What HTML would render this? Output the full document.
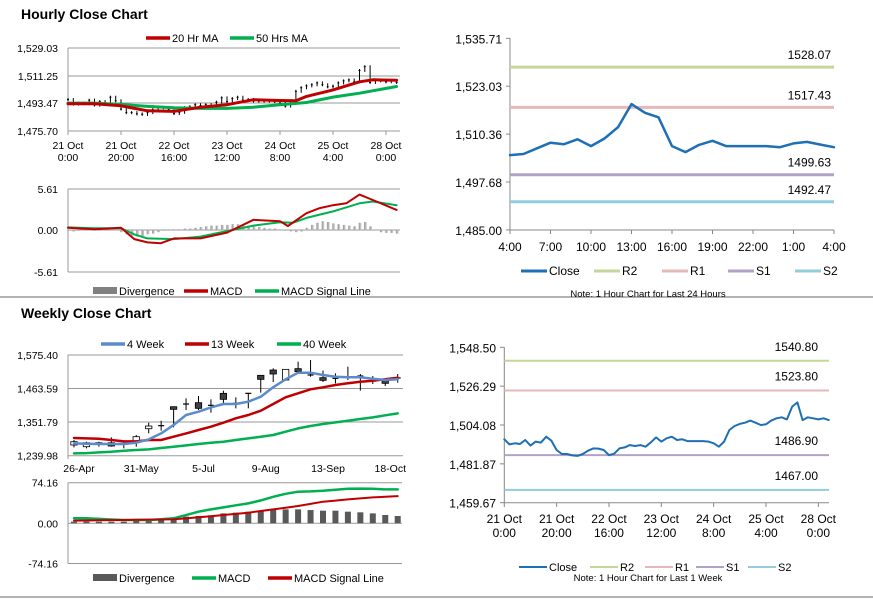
<!DOCTYPE html>
<html><head><meta charset="utf-8"><style>
html,body{margin:0;padding:0;background:#fff;}
svg{display:block;font-family:"Liberation Sans",Arial,sans-serif;}
</style></head><body>
<svg id="s" width="873" height="601" viewBox="0 0 873 601" xmlns="http://www.w3.org/2000/svg">
<line x1="0" y1="297" x2="873" y2="297" stroke="#999" stroke-width="1.5"/>
<line x1="0" y1="597" x2="873" y2="597" stroke="#999" stroke-width="1.5"/>
<text x="21" y="19" font-size="14" font-weight="bold">Hourly Close Chart</text>
<text x="21" y="318" font-size="14" font-weight="bold">Weekly Close Chart</text>
</svg>
<script>
// ---------- data ----------
const hourCloses = [1495.9,1493.0,1493.6,1493.2,1495.5,1492.3,1494.6,1494.0,1497.4,1495.1,1489.8,1487.5,1487.5,1486.7,1486.4,1487.5,1489.4,1490.7,1490.6,1489.8,1486.9,1487.7,1490.7,1491.3,1492.6,1492.1,1492.6,1491.7,1494.2,1497.0,1494.6,1496.5,1497.4,1495.5,1495.9,1494.9,1494.9,1494.9,1494.9,1494.6,1493.6,1491.7,1494.6,1501.2,1503.5,1504.7,1505.4,1506.6,1505.4,1504.1,1504.5,1506.6,1507.9,1508.5,1507.3,1514.6,1517.0,1506.9,1508.5,1507.9,1507.3,1507.9,1506.9];
const ma20Hours = [0,10,20,30,40,50,60,70,80,86,90,100,110,115,124];
const ma20Values = [1493.2,1493.2,1491.9,1488.7,1488.3,1491.0,1492.6,1495.8,1495.3,1495.1,1497.9,1502.1,1507.3,1508.6,1508.3];
const ma50Hours = [0,10,20,30,40,50,60,70,80,90,100,110,124];
const ma50Values = [1493.6,1493.6,1492.8,1491.5,1490.6,1490.2,1490.2,1491.0,1492.6,1494.0,1497.5,1500.0,1504.3];
const hourTicks = ["21 Oct|0:00","21 Oct|20:00","22 Oct|16:00","23 Oct|12:00","24 Oct|8:00","25 Oct|4:00","28 Oct|0:00"];
const hourPriceTicks = ["1,529.03","1,511.25","1,493.47","1,475.70"];
const macdHours = [0,10,20,25,30,35,40,50,60,70,80,83,90,95,100,105,110,115,124];
const macdValues = [0.3,0.1,0.3,-1.25,-1.7,-1.8,-1.15,-1.15,-0.35,1.4,1.2,0.55,2.3,3.0,3.4,3.65,4.85,4.1,2.75];
const signalHours = [0,10,20,25,30,40,50,60,70,80,85,90,100,110,115,124];
const signalValues = [0.35,0.25,0.25,-0.6,-1.15,-1.25,-0.9,-0.15,0.6,1.05,1.0,1.65,2.55,3.65,3.9,3.4];
const divergenceValues = [-0.1,-0.2,-0.1,0,0,-0.1,-0.1,0,0.1,0,-0.3,-0.6,-0.8,-0.9,-0.8,-0.6,-0.5,-0.3,-0.1,0.1,0.1,0.1,0.2,0.2,0.3,0.4,0.5,0.6,0.6,0.7,0.7,0.8,0.8,0.7,0.6,0.5,0.4,0.3,0.2,0.2,0.1,-0.1,-0.2,-0.3,-0.2,0.3,0.7,1.0,1.2,1.1,0.9,0.8,0.7,0.6,0.5,1.0,1.1,0.5,0.0,-0.3,-0.4,-0.4,-0.5];

const wkOpen = [1275.5,1270.0,1278.9,1283.3,1278.9,1286.6,1329.9,1340,1403.2,1412.1,1416.6,1407.7,1447.7,1414.4,1447.7,1507.7,1525.4,1492.1,1529.9,1508.8,1499.9,1497.7,1503.2,1505.4,1489.9,1489.9,1498.8];
const wkClose = [1286.6,1283.3,1283.3,1272.2,1278.9,1303.3,1338.8,1340,1394.4,1412.1,1397.7,1407.7,1427.7,1414.4,1447.7,1494.3,1512.1,1527.6,1519.9,1508.8,1491.0,1497.7,1503.2,1505.4,1489.9,1481.0,1498.8];
const wkHigh = [1292.2,1286.6,1286.6,1301.1,1286.6,1308.8,1349.9,1356.6,1403.2,1431.0,1438.8,1427.7,1456.6,1434.4,1447.7,1507.7,1531.0,1527.6,1553.2,1558.7,1523.2,1514.3,1536.5,1512.1,1505.4,1494.3,1512.1];
const wkLow = [1267.8,1264.4,1270,1270,1264.4,1270,1314.4,1323.3,1334.4,1392.1,1392.1,1383.3,1414.4,1397.7,1397.7,1449.9,1485.4,1489.9,1512.1,1503.2,1485.4,1481.0,1492.1,1456.6,1478.8,1472.1,1483.2];
const wk4 = [1281.1,1280,1278.9,1278.9,1278.9,1283.3,1294.4,1314.4,1342.2,1375.5,1386.6,1401,1412.1,1412.1,1419.9,1436.6,1467.7,1494.3,1516.5,1516.5,1508.8,1503.2,1501,1501,1496.5,1492.1,1494.3];
const wk13 = [1298.8,1297.7,1296.6,1292.2,1287.7,1287.7,1292.2,1292.2,1303.3,1314.4,1325.5,1336.6,1350.0,1364.4,1375.5,1390.0,1412.1,1434.4,1447.7,1461.0,1467.7,1475.4,1481.0,1486.5,1489.9,1494.3,1499.9];
const wk40 = [1247.7,1248.8,1251.1,1253.3,1256.6,1258.8,1261.1,1265.5,1270.0,1274.4,1278.9,1283.3,1286.6,1292.2,1297.7,1303.3,1308.8,1319.9,1331.0,1338.8,1345.5,1351.0,1356.6,1362.1,1367.7,1374.4,1381.0];
const wkTicks = ["26-Apr","31-May","5-Jul","9-Aug","13-Sep","18-Oct"];
const wkPriceTicks = ["1,575.40","1,463.59","1,351.79","1,239.98"];
const wkMacd = [9.1,9.1,8,7,6.1,6.1,6.1,7.5,9.1,15,21.3,25.5,29.2,33,36.5,42,48.6,54,57.8,58.5,59.6,61.5,63.2,63.5,63.2,62,62];
const wkSignal = [4.9,5.2,5.5,5.8,6.1,6.4,6.7,7,7.3,9,10.9,13,15.2,17.3,19.5,22.5,25.5,28.5,31.6,35.5,39.5,41.6,43.8,45.6,47.4,48.6,49.8];
const wkDiv = [3,3,3,3,3,4.3,6.1,7.3,9.1,12.2,13.4,14.6,18.2,19.5,21.3,23.1,24.3,25.5,25.5,24.3,23.1,23.1,21.3,20.1,18.2,15.2,13.4];

const dayClose = [1504.8,1505.1,1506.6,1508.1,1507.7,1509.0,1507.2,1509.2,1512.2,1518.3,1516.0,1514.8,1507.2,1505.6,1507.5,1508.6,1507.2,1507.2,1507.2,1507.2,1506.9,1507.9,1508.3,1507.6,1506.9];
const dayTicks = ["4:00","7:00","10:00","13:00","16:00","19:00","22:00","1:00","4:00"];
const dayYTicks = ["1,535.71","1,523.03","1,510.36","1,497.68","1,485.00"];
const dayLevels = [1528.07,1517.43,1499.63,1492.47];
const weekLevels = [1540.80,1523.80,1486.90,1467.00];
const weekYTicks = ["1,548.50","1,526.29","1,504.08","1,481.87","1,459.67"];
const levelNames = ["R2","R1","S1","S2"];
const levelColors = ["#c4d79b","#e6b9b8","#b3a2c7","#93cddd"];

// ---------- helpers ----------
const S = document.getElementById('s');
const NS = "http://www.w3.org/2000/svg";
function mk(tag, attrs, parent){
  const e = document.createElementNS(NS, tag);
  for (const k in attrs) e.setAttribute(k, attrs[k]);
  (parent||S).appendChild(e); return e;
}
function txt(x,y,s,size,anchor,name){
  const e = mk('text',{x:x,y:y,'font-size':size,'text-anchor':anchor||'start',fill:'#000'});
  e.textContent = s;
  
  
  return e;
}
function poly(pts,color,w,name){
  const e = mk('polyline',{points:pts.map(p=>p[0].toFixed(1)+','+p[1].toFixed(1)).join(' '),fill:'none',stroke:color,'stroke-width':w,'stroke-linejoin':'round','stroke-linecap':'round'});
  
  
  return e;
}
function ln(x1,y1,x2,y2,color,w,name){
  const e = mk('line',{x1:x1,y1:y1,x2:x2,y2:y2,stroke:color,'stroke-width':w});
  
  
  return e;
}
function legendItem(x,y,color,label,name,box){
  if (box){
    const r = mk('rect',{x:x,y:y-4,width:24,height:7,fill:color});
    
    
  } else ln(x,y,x+24,y,color,3.5,name+'-swatch');
  txt(x+26,y+4,label,11,'start',name+'-label');
}

// ---------- hourly candle chart (top-left) ----------
const hx = h => 68 + h*2.65;
const hy = v => 48 + (1529.03 - v)/53.33*83;
[48,76,103,131].forEach((y,i)=>{ ln(68,y,400,y,'#999',1,'hourly-gridline'); txt(58,y+4,hourPriceTicks[i],10.5,'end','hourly-y-tick'); });
ln(68,48,68,134,'#999',1,'hourly-y-axis');
hourTicks.forEach((t,i)=>{ const x=hx(i*20); ln(x,131,x,135,'#999',1,'hourly-x-tick'); const p=t.split('|'); txt(x,149,p[0],10.5,'middle','hourly-x-label'); txt(x,161,p[1],10.5,'middle','hourly-x-label'); });
hourCloses.forEach((c,i)=>{
  const o = i? hourCloses[i-1] : c;
  const x = hx(i*2);
  const top = Math.min(hy(o),hy(c))-1.5, bot = Math.max(hy(o),hy(c))+1.5;
  ln(x,top,x,bot,'#000',1,'hourly-candle');
  ln(x-1,hy(c),x+1,hy(c),'#000',1,'hourly-candle-close');
});
poly(ma50Hours.map((h,i)=>[hx(h),hy(ma50Values[i])]),'#00b050',3,'ma50-line');
poly(ma20Hours.map((h,i)=>[hx(h),hy(ma20Values[i])]),'#c00000',3,'ma20-line');
legendItem(146,38,'#c00000','20 Hr MA','legend-20hr-ma');
legendItem(230,38,'#00b050','50 Hrs MA','legend-50hrs-ma');

// ---------- hourly MACD ----------
const my = v => 230 - v/5.61*41;
[[189,'5.61'],[230,'0.00'],[272,'-5.61']].forEach(t=>{ ln(68,t[0],400,t[0],'#999',1,'hourly-macd-gridline'); txt(58,t[0]+4,t[1],10.5,'end','hourly-macd-y-tick'); });
ln(68,189,68,272,'#999',1,'hourly-macd-y-axis');
divergenceValues.forEach((v,i)=>{ const x=hx(i*2); ln(x,my(0),x,my(v),'#a6a6a6',1.6,'hourly-divergence-bar'); ln(x+1.3,my(0),x+1.3,my(v),'#bfbfbf',1,'hourly-divergence-bar'); });
poly(signalHours.map((h,i)=>[hx(h),my(signalValues[i])]),'#00b050',2,'hourly-signal-line');
poly(macdHours.map((h,i)=>[hx(h),my(macdValues[i])]),'#c00000',2,'hourly-macd-line');
legendItem(93,291,'#808080','Divergence','legend-hourly-divergence',true);
legendItem(184,291,'#c00000','MACD','legend-hourly-macd');
legendItem(255,291,'#00b050','MACD Signal Line','legend-hourly-signal');

// ---------- weekly candle chart ----------
const wx = i => 74 + i*12.45;
const wy = v => 355 + (1575.4 - v)/335.42*100.7;
[355,388.5,422,455.7].forEach((y,i)=>{ ln(68,y,403,y,'#999',1,'weekly-gridline'); txt(58,y+4,wkPriceTicks[i],10.5,'end','weekly-y-tick'); });
ln(68,355,68,459,'#999',1,'weekly-y-axis');
wkTicks.forEach((t,i)=>{ const x=wx(i*5)+5; txt(x,472,t,10.5,'middle','weekly-x-label'); });
wkOpen.forEach((o,i)=>{
  const c = wkClose[i], x = wx(i);
  ln(x,wy(wkHigh[i]),x,wy(wkLow[i]),'#000',1,'weekly-candle-wick');
  const t = Math.min(wy(o),wy(c)), h = Math.max(1.2,Math.abs(wy(o)-wy(c)));
  if (Math.abs(o-c) < 0.5) ln(x-3,wy(c),x+3,wy(c),'#000',1.2,'weekly-candle-cross');
  else {
    const r = mk('rect',{x:x-3.2,y:t,width:6.4,height:h,fill:c<o?'#404040':'#fff',stroke:'#000','stroke-width':0.8});
    
    
  }
});
poly(wk40.map((v,i)=>[wx(i),wy(v)]),'#00b050',2.5,'week40-line');
poly(wk13.map((v,i)=>[wx(i),wy(v)]),'#c00000',2.5,'week13-line');
poly(wk4.map((v,i)=>[wx(i),wy(v)]),'#5b8bcc',2.5,'week4-line');
legendItem(101,344,'#5b8bcc','4 Week','legend-4-week');
legendItem(185,344,'#c00000','13 Week','legend-13-week');
legendItem(277,344,'#00b050','40 Week','legend-40-week');

// ---------- weekly MACD ----------
const wmy = v => 523.3 - v/74.16*40.5;
[[482.7,'74.16'],[523.3,'0.00'],[563.5,'-74.16']].forEach(t=>{ ln(68,t[0],402,t[0],'#999',1,'weekly-macd-gridline'); txt(58,t[0]+4,t[1],10.5,'end','weekly-macd-y-tick'); });
ln(68,482.7,68,563.5,'#999',1,'weekly-macd-y-axis');
wkDiv.forEach((v,i)=>{ const r=mk('rect',{x:wx(i)-3,y:wmy(v),width:6,height:wmy(0)-wmy(v),fill:'#595959'});   });
poly(wkMacd.map((v,i)=>[wx(i),wmy(v)]),'#00b050',2.5,'weekly-macd-line');
poly(wkSignal.map((v,i)=>[wx(i),wmy(v)]),'#c00000',2,'weekly-signal-line');
legendItem(93,578,'#595959','Divergence','legend-weekly-divergence',true);
legendItem(192,578,'#00b050','MACD','legend-weekly-macd');
legendItem(268,578,'#c00000','MACD Signal Line','legend-weekly-signal');

// ---------- 24h chart (top-right) ----------
const dx = h => 510 + h*13.5;
const dy = v => 38.3 + (1535.71 - v)/50.71*191.7;
ln(510,38,510,230,'#888',1,'day-y-axis'); ln(510,230,834,230,'#888',1,'day-x-axis');
dayYTicks.forEach((t,i)=>{ const y=38.3+i*47.9; ln(506,y,510,y,'#888',1,'day-y-tick'); txt(502,y+5,t,12,'end','day-y-label'); });
dayTicks.forEach((t,i)=>{ const x=dx(i*3); ln(x,230,x,234,'#888',1,'day-x-tick'); txt(x,251,t,12,'middle','day-x-label'); });
dayLevels.forEach((v,i)=>{ ln(510,dy(v),834,dy(v),levelColors[i],3,'day-level-'+levelNames[i].toLowerCase()); txt(831,dy(v)-8,v.toFixed(2),12,'end','day-level-label'); });
poly(dayClose.map((v,i)=>[dx(i),dy(v)]),'#1f6fb4',2.5,'day-close-line');
[['Close','#1f6fb4',521],['R2',levelColors[0],594],['R1',levelColors[1],662],['S1',levelColors[2],728],['S2',levelColors[3],795]].forEach(l=>{ ln(l[2],271,l[2]+26,271,l[1],3,'day-legend-swatch'); txt(l[2]+28,275,l[0],12,'start','day-legend-label'); });
txt(648,297,'Note: 1 Hour Chart for Last 24 Hours',9.5,'middle','day-note');

// ---------- 1-week chart (bottom-right) ----------
const ex = h => 504.3 + h*2.617;
const ey = v => 347.3 + (1548.5 - v)/88.83*155.4;
ln(504.3,347,504.3,503,'#888',1,'week-y-axis'); ln(504.3,502.7,829,502.7,'#888',1,'week-x-axis');
weekYTicks.forEach((t,i)=>{ const y=347.3+i*38.85; ln(500,y,504,y,'#888',1,'week-y-tick'); txt(496,y+5,t,12,'end','week-y-label'); });
hourTicks.forEach((t,i)=>{ const x=ex(i*20); ln(x,503,x,507,'#888',1,'week-x-tick'); const p=t.split('|'); txt(x,523,p[0],12,'middle','week-x-label'); txt(x,537,p[1],12,'middle','week-x-label'); });
weekLevels.forEach((v,i)=>{ ln(504.3,ey(v),829,ey(v),levelColors[i],2,'week-level-'+levelNames[i].toLowerCase()); txt(818,ey(v)-10,v.toFixed(2),12,'end','week-level-label'); });
poly(hourCloses.map((v,i)=>[ex(i*2),ey(v)]),'#1f6fb4',2,'week-close-line');
[['Close','#1f6fb4',519],['R2',levelColors[0],590],['R1',levelColors[1],645],['S1',levelColors[2],696],['S2',levelColors[3],748]].forEach(l=>{ ln(l[2],567,l[2]+28,567,l[1],2,'week-legend-swatch'); txt(l[2]+30,571,l[0],11,'start','week-legend-label'); });
txt(648,581,'Note: 1 Hour Chart for Last 1 Week',9.5,'middle','week-note');
</script>
</body></html>
